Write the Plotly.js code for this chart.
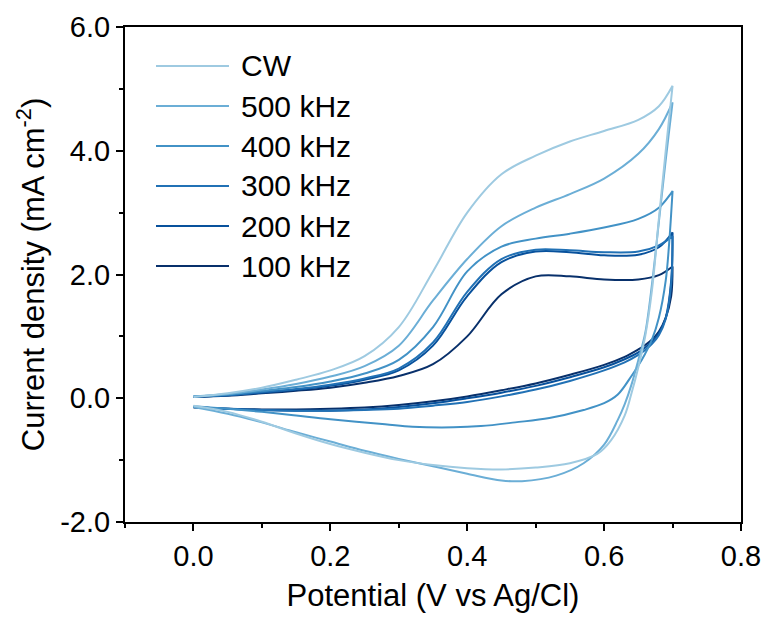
<!DOCTYPE html>
<html>
<head>
<meta charset="utf-8">
<script src="https://cdn.plot.ly/plotly-3.0.1.min.js"></script>
<style>html,body{margin:0;padding:0;background:#fff;}#chart{width:765px;height:623px;}</style>
</head>
<body>
<div id="chart"></div>
<script>
// Series names and colours
const seriesNames = ["CW", "500 kHz", "400 kHz", "300 kHz", "200 kHz", "100 kHz"];
const seriesColors = ["#9ecae1", "#6baed6", "#4292c6", "#2171b5", "#08519c", "#08306b"];

// Tick labels
const xTickVals = [0, 0.2, 0.4, 0.6, 0.8];
const xTickText = ["0.0", "0.2", "0.4", "0.6", "0.8"];
const yTickVals = [-2, 0, 2, 4, 6];
const yTickText = ["-2.0", "0.0", "2.0", "4.0", "6.0"];

// Forward (anodic) scan potentials, V vs Ag/Cl
const potFwd = [0, 0.05, 0.1, 0.15, 0.2, 0.25, 0.3, 0.35, 0.4, 0.45, 0.5, 0.55, 0.6, 0.65, 0.68, 0.7];
// Forward current densities, mA cm^-2
const cwFwd   = [0.02, 0.08, 0.17, 0.30, 0.45, 0.68, 1.15, 2.05, 3.00, 3.62, 3.92, 4.15, 4.32, 4.50, 4.72, 5.05];
const k500Fwd = [0.03, 0.07, 0.14, 0.23, 0.35, 0.52, 0.85, 1.58, 2.25, 2.78, 3.08, 3.30, 3.55, 3.95, 4.35, 4.78];
const k400Fwd = [0.03, 0.06, 0.12, 0.18, 0.27, 0.40, 0.62, 1.15, 2.05, 2.45, 2.58, 2.66, 2.76, 2.90, 3.08, 3.35];
const k300Fwd = [0.03, 0.05, 0.10, 0.15, 0.22, 0.32, 0.48, 0.90, 1.72, 2.25, 2.40, 2.39, 2.36, 2.37, 2.47, 2.62];
const k200Fwd = [0.02, 0.05, 0.09, 0.14, 0.20, 0.30, 0.45, 0.85, 1.65, 2.20, 2.37, 2.36, 2.31, 2.32, 2.44, 2.68];
const k100Fwd = [0.02, 0.04, 0.08, 0.12, 0.17, 0.25, 0.36, 0.55, 1.00, 1.68, 1.97, 1.97, 1.92, 1.92, 1.99, 2.13];

// Reverse (cathodic) scan
const cwRevV   = [0.7, 0.69, 0.68, 0.67, 0.66, 0.65, 0.64, 0.63, 0.61, 0.59, 0.55, 0.5, 0.45, 0.4, 0.35, 0.3, 0.25, 0.2, 0.15, 0.1, 0.05, 0.0];
const cwRevJ   = [5.05, 4.00, 2.90, 1.75, 1.00, 0.50, 0.08, -0.28, -0.68, -0.90, -1.05, -1.12, -1.15, -1.13, -1.08, -1.00, -0.88, -0.74, -0.57, -0.38, -0.22, -0.12];
const k500RevV = [0.7, 0.69, 0.68, 0.67, 0.66, 0.65, 0.64, 0.63, 0.62, 0.6, 0.57, 0.53, 0.48, 0.45, 0.4, 0.35, 0.3, 0.25, 0.2, 0.15, 0.1, 0.05, 0.0];
const k500RevJ = [4.78, 3.85, 2.85, 1.85, 1.05, 0.62, 0.22, -0.10, -0.35, -0.75, -1.05, -1.25, -1.34, -1.33, -1.22, -1.10, -0.98, -0.85, -0.70, -0.55, -0.39, -0.25, -0.14];
const k400RevV = [0.7, 0.695, 0.69, 0.68, 0.67, 0.66, 0.65, 0.64, 0.62, 0.6, 0.57, 0.52, 0.47, 0.42, 0.38, 0.32, 0.28, 0.2, 0.15, 0.1, 0.05, 0.0];
const k400RevJ = [3.35, 2.50, 1.90, 1.30, 0.95, 0.72, 0.53, 0.36, 0.06, -0.08, -0.19, -0.32, -0.39, -0.45, -0.47, -0.46, -0.42, -0.34, -0.28, -0.22, -0.17, -0.13];
const lowRevV  = [0.7, 0.698, 0.69, 0.68, 0.67, 0.66, 0.65, 0.63, 0.6, 0.55, 0.5, 0.45, 0.4, 0.35, 0.3, 0.25, 0.2, 0.15, 0.1, 0.05, 0.0];
const k300RevJ = [2.62, 1.85, 1.28, 1.02, 0.88, 0.78, 0.70, 0.58, 0.45, 0.28, 0.14, 0.03, -0.06, -0.12, -0.17, -0.19, -0.20, -0.20, -0.19, -0.17, -0.14];
const k200RevJ = [2.68, 1.90, 1.30, 1.05, 0.92, 0.82, 0.74, 0.63, 0.50, 0.34, 0.20, 0.09, 0.00, -0.08, -0.14, -0.18, -0.20, -0.20, -0.19, -0.17, -0.14];
const k100RevJ = [2.13, 1.65, 1.30, 1.08, 0.95, 0.86, 0.79, 0.67, 0.54, 0.38, 0.24, 0.13, 0.03, -0.05, -0.11, -0.15, -0.17, -0.18, -0.18, -0.17, -0.15];

const fwdJ = [cwFwd, k500Fwd, k400Fwd, k300Fwd, k200Fwd, k100Fwd];
const revV = [cwRevV, k500RevV, k400RevV, lowRevV, lowRevV, lowRevV];
const revJ = [cwRevJ, k500RevJ, k400RevJ, k300RevJ, k200RevJ, k100RevJ];

const FONT = "Liberation Sans, Arial, sans-serif";

const traces = seriesNames.map((name, i) => ({
  type: "scatter",
  mode: "lines",
  name: name,
  x: potFwd.concat(revV[i]),
  y: fwdJ[i].concat(revJ[i]),
  line: {color: seriesColors[i], width: 2, shape: "spline", smoothing: 1},
  showlegend: false
}));
traces.reverse();

// Custom legend (long sample lines like the original)
const plotL = 125, plotW = 616, plotT = 27, plotH = 495;
const legRow0 = 66, legStep = 40, legX0 = 156, legX1 = 229, legTextX = 239;
const px2x = p => (p - plotL) / plotW;
const py2y = p => (plotT + plotH - p) / plotH;
const shapes = [], annotations = [];
seriesNames.forEach((name, i) => {
  const yy = py2y(legRow0 + i * legStep);
  shapes.push({type: "line", xref: "paper", yref: "paper", x0: px2x(legX0), x1: px2x(legX1), y0: yy, y1: yy,
               line: {color: seriesColors[i], width: 2}});
  annotations.push({xref: "paper", yref: "paper", x: px2x(legTextX), y: yy, xanchor: "left", yanchor: "middle",
                    text: name, showarrow: false, font: {family: FONT, size: 30, color: "#000"}});
});

const layout = {
  width: 765, height: 623,
  margin: {l: 125, r: 24, t: 27, b: 101, pad: 0},
  paper_bgcolor: "#fff", plot_bgcolor: "#fff",
  font: {family: FONT, color: "#000"},
  showlegend: false,
  xaxis: {
    range: [-0.1, 0.8], tickmode: "array", tickvals: xTickVals, ticktext: xTickText,
    showgrid: false, zeroline: false,
    showline: true, linecolor: "#000", linewidth: 2, mirror: true,
    ticks: "outside", ticklen: 7, tickwidth: 2, tickcolor: "#000",
    minor: {tickmode: "linear", dtick: 0.1, tick0: 0, ticks: "outside", ticklen: 4, tickwidth: 2, tickcolor: "#000", showgrid: false},
    tickfont: {family: FONT, size: 29, color: "#000"},
    title: {text: "Potential (V vs Ag/Cl)", font: {family: FONT, size: 31, color: "#000"}, standoff: 14},
    automargin: false
  },
  yaxis: {
    range: [-2, 6], tickmode: "array", tickvals: yTickVals, ticktext: yTickText,
    showgrid: false, zeroline: false,
    showline: true, linecolor: "#000", linewidth: 2, mirror: true,
    ticks: "outside", ticklen: 7, tickwidth: 2, tickcolor: "#000",
    minor: {tickmode: "linear", dtick: 1, tick0: 0, ticks: "outside", ticklen: 4, tickwidth: 2, tickcolor: "#000", showgrid: false},
    tickfont: {family: FONT, size: 29, color: "#000"},
    title: {text: "Current density (mA cm<sup>-2</sup>)", font: {family: FONT, size: 31, color: "#000"}, standoff: 6},
    automargin: false
  },
  shapes: shapes,
  annotations: annotations
};

Plotly.newPlot("chart", traces, layout, {staticPlot: true, displayModeBar: false});
</script>
</body>
</html>
